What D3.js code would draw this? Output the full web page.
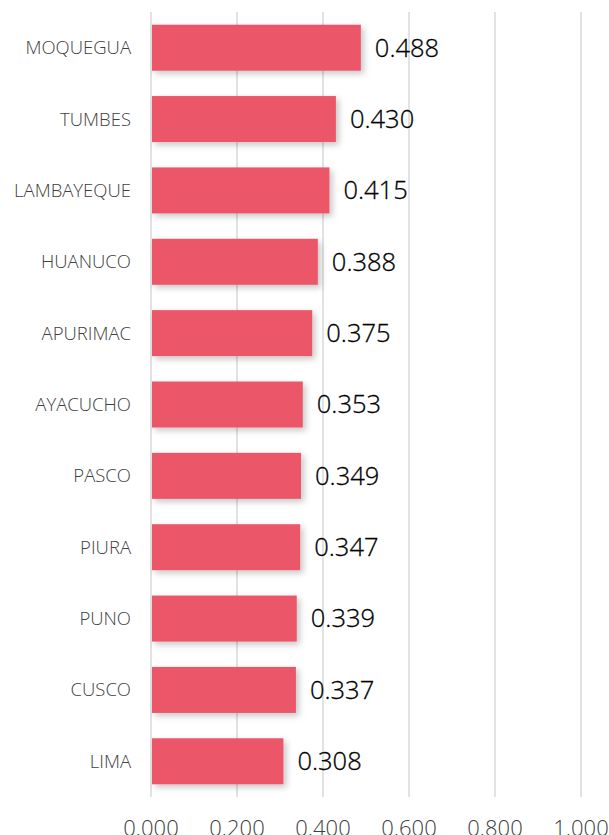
<!DOCTYPE html>
<html>
<head>
<meta charset="utf-8">
<script src="https://cdn.jsdelivr.net/npm/d3@7"></script>
<style>
  body { margin: 0; background: #fff; }
  svg { display: block; }
</style>
</head>
<body>
<svg></svg>
<script>
var width = 609;
var height = 835;

// data
var regions = ["MOQUEGUA", "TUMBES", "LAMBAYEQUE", "HUANUCO", "APURIMAC", "AYACUCHO",
               "PASCO", "PIURA", "PUNO", "CUSCO", "LIMA"];
var values = [0.488, 0.430, 0.415, 0.388, 0.375, 0.353, 0.349, 0.347, 0.339, 0.337, 0.308];
var ticks = [0, 0.2, 0.4, 0.6, 0.8, 1.0];

var svg = d3.select("svg").attr("width", width).attr("height", height);

var margin = {top: 12, left: 151, right: 28, bottom: 38};

var xScale = d3.scaleLinear().domain([0, 1]).range([margin.left, 581]);
var yScale = d3.scaleBand().domain(regions)
    .range([margin.top, height - margin.bottom])
    .paddingInner(0.355).paddingOuter(0.178);

// soft shadow under the bars
var defs = svg.append("defs");
var f = defs.append("filter").attr("id", "shadow")
    .attr("x", "-10%").attr("y", "-20%").attr("width", "130%").attr("height", "160%");
f.append("feDropShadow").attr("dx", 3).attr("dy", 3).attr("stdDeviation", 3)
    .attr("flood-color", "#000").attr("flood-opacity", 0.22);

// gridlines
svg.append("g").selectAll("line")
    .data(ticks).enter().append("line")
    .attr("x1", function(d) { return xScale(d); })
    .attr("x2", function(d) { return xScale(d); })
    .attr("y1", margin.top)
    .attr("y2", height - margin.bottom)
    .attr("stroke", "#d9d9d9")
    .attr("stroke-width", 1.5);

// bars
svg.append("g").selectAll("rect")
    .data(values).enter().append("rect")
    .attr("x", xScale(0) + 1)
    .attr("y", function(d, i) { return yScale(regions[i]); })
    .attr("width", function(d) { return xScale(d) - xScale(0) - 1; })
    .attr("height", yScale.bandwidth())
    .attr("fill", "#eb5769")
    .attr("filter", "url(#shadow)");

// value labels
svg.append("g").selectAll("text")
    .data(values).enter().append("text")
    .attr("x", function(d) { return xScale(d) + 14; })
    .attr("y", function(d, i) { return yScale(regions[i]) + yScale.bandwidth() / 2; })
    .attr("dy", "0.35em")
    .attr("font-family", "Open Sans, sans-serif")
    .attr("font-weight", 300)
    .attr("font-size", 25.5)
    .attr("fill", "#000")
    .attr("stroke", "#000")
    .attr("stroke-width", 0.3)
    .text(function(d) { return d3.format(".3f")(d); });

// category labels
svg.append("g").selectAll("text")
    .data(regions).enter().append("text")
    .attr("x", 131)
    .attr("y", function(d) { return yScale(d) + yScale.bandwidth() / 2; })
    .attr("dy", "0.35em")
    .attr("text-anchor", "end")
    .attr("font-family", "Open Sans, sans-serif")
    .attr("font-weight", 300)
    .attr("font-size", 18.5)
    .attr("fill", "#404040")
    .text(function(d) { return d; });

// x tick labels
svg.append("g").selectAll("text")
    .data(ticks).enter().append("text")
    .attr("x", function(d) { return xScale(d); })
    .attr("y", 836)
    .attr("text-anchor", "middle")
    .attr("font-family", "Open Sans, sans-serif")
    .attr("font-weight", 300)
    .attr("font-size", 22)
    .attr("fill", "#404040")
    .text(function(d) { return d3.format(".3f")(d); });
</script>
</body>
</html>
